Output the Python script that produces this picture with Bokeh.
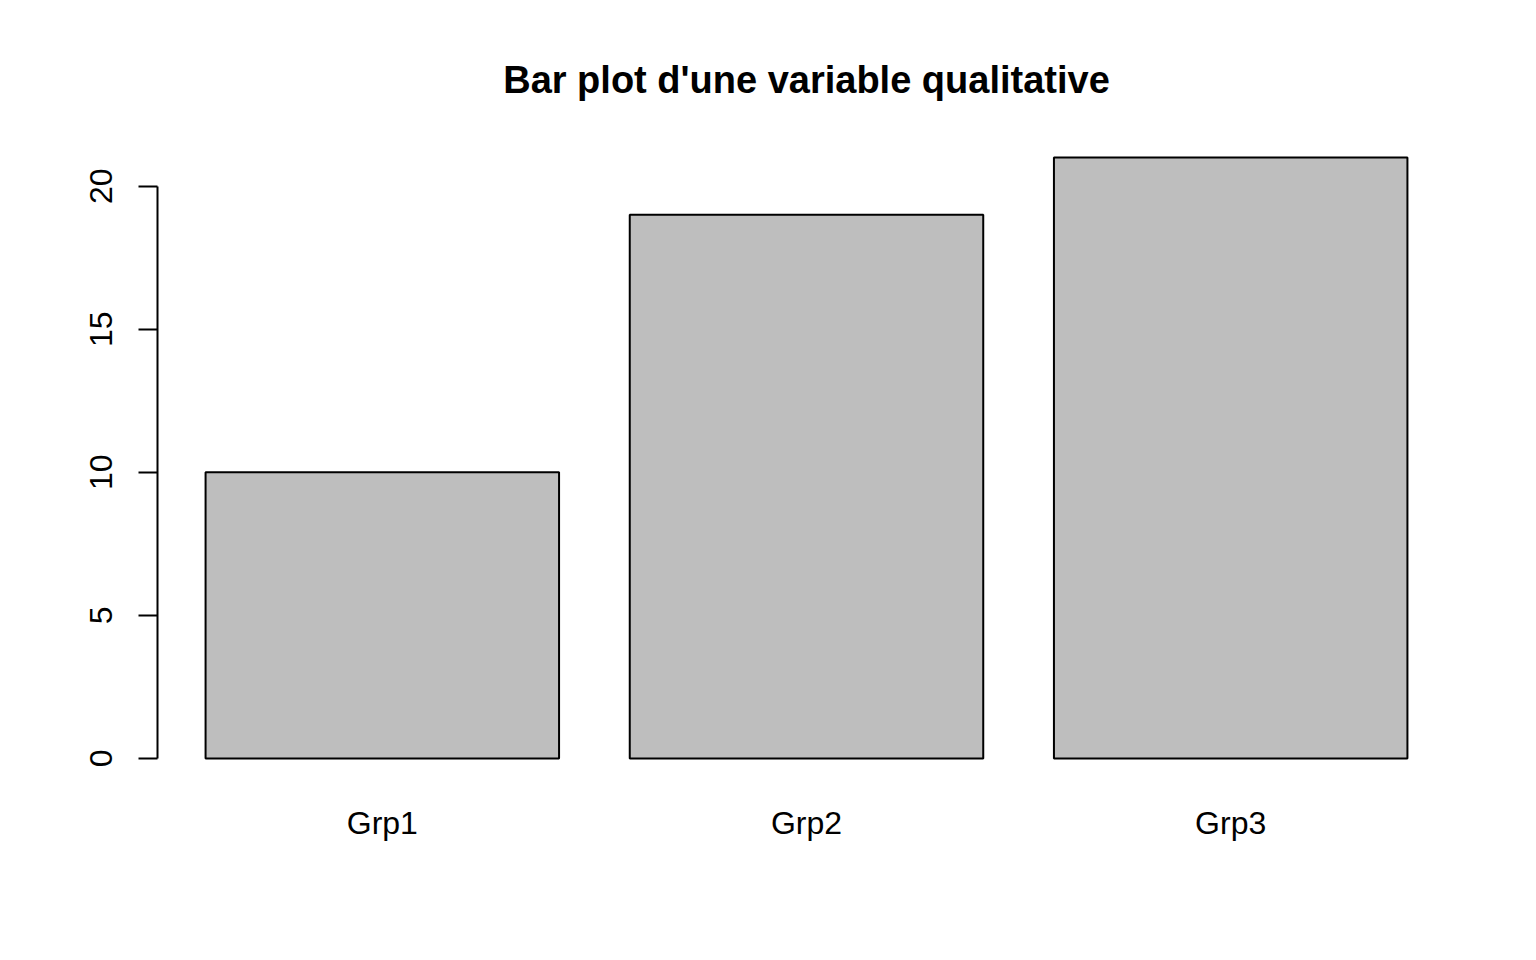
from bokeh.plotting import figure
from bokeh.models import Range1d, FixedTicker
from bokeh.embed import file_html
from bokeh.resources import INLINE

categories = ["Grp1", "Grp2", "Grp3"]
counts = [10, 19, 21]
y_ticks = [0, 5, 10, 15, 20]

# R barplot layout: width 1, space 0.2
bar_w = 1.0
space = 0.2
lefts = [space + i * (bar_w + space) for i in range(len(categories))]
centers = [l + bar_w / 2 for l in lefts]
x_lo, x_hi = lefts[0], lefts[-1] + bar_w
xpad = 0.04 * (x_hi - x_lo)
ymax = max(counts)
ypad = 0.04 * ymax

FONT = "Liberation Sans"

p = figure(width=1520, height=944, output_backend="svg", toolbar_location=None,
           x_range=Range1d(x_lo - xpad, x_hi + xpad),
           y_range=Range1d(-ypad, ymax + ypad),
           min_border_left=157, min_border_right=65,
           min_border_top=133, min_border_bottom=162)

p.vbar(x=centers, top=counts, bottom=0, width=bar_w,
       fill_color="#BEBEBE", line_color="black", line_width=2)

p.outline_line_color = None
p.grid.visible = False
p.background_fill_color = "white"
p.border_fill_color = "white"

p.title.text = "Bar plot d'une variable qualitative"
p.title.text_font = FONT
p.title.text_font_style = "bold"
p.title.text_font_size = "38px"
p.title.align = "center"
p.title.text_color = "black"
p.title.standoff = 65

xa = p.xaxis[0]
xa.ticker = FixedTicker(ticks=centers)
xa.major_label_overrides = {c: n for c, n in zip(centers, categories)}
xa.axis_line_color = None
xa.major_tick_line_color = None
xa.minor_tick_line_color = None
xa.major_tick_out = 0
xa.major_label_standoff = 22
xa.major_label_text_font = FONT
xa.major_label_text_font_size = "32px"
xa.major_label_text_color = "black"

ya = p.yaxis[0]
ya.ticker = FixedTicker(ticks=y_ticks)
ya.bounds = (y_ticks[0], y_ticks[-1])
ya.axis_line_width = 2
ya.axis_line_color = "black"
ya.major_tick_line_width = 2
ya.major_tick_line_color = "black"
ya.major_tick_out = 19
ya.major_tick_in = 0
ya.minor_tick_line_color = None
ya.major_label_orientation = "vertical"
ya.major_label_standoff = 26
ya.major_label_text_font = FONT
ya.major_label_text_font_size = "32px"
ya.major_label_text_color = "black"

open("out.html", "w").write(file_html(p, INLINE))
